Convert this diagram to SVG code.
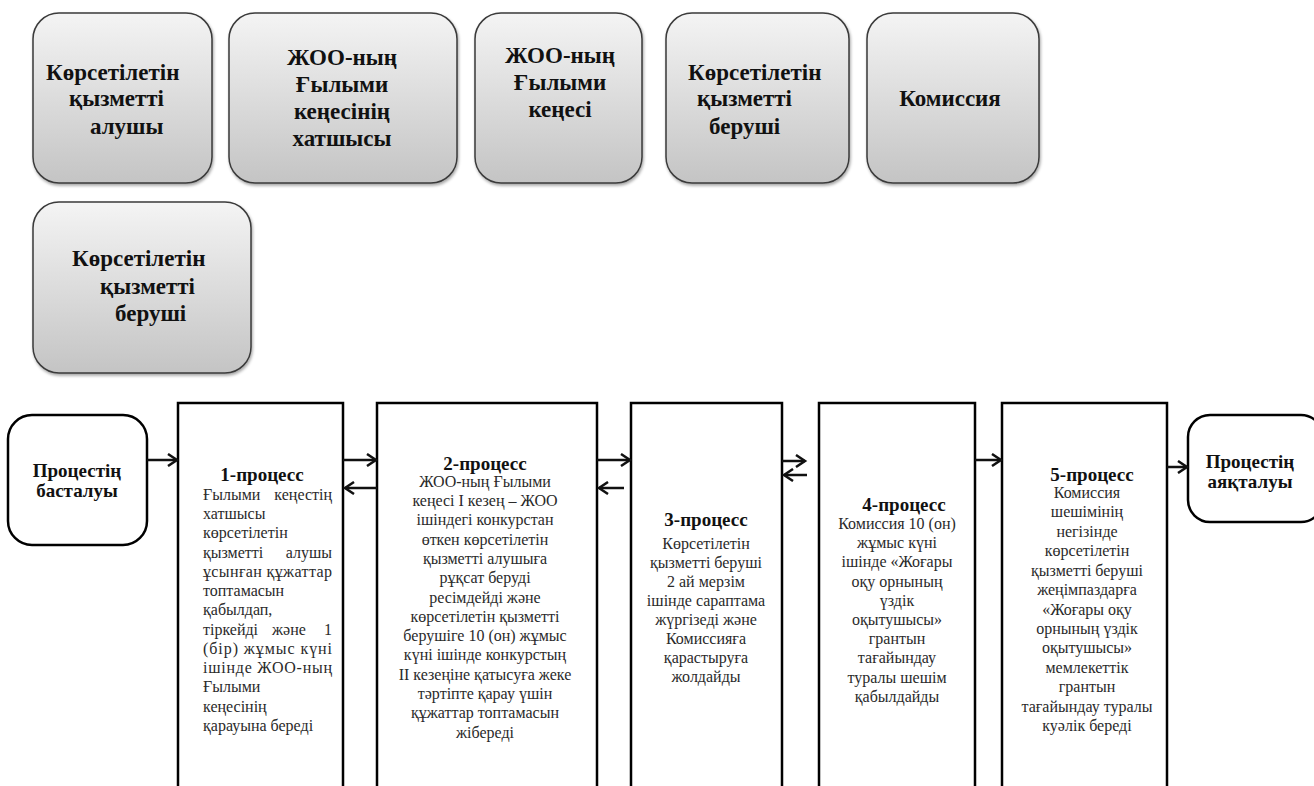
<svg xmlns="http://www.w3.org/2000/svg" width="1314" height="786" viewBox="0 0 1314 786">
<style>
  .actor { stroke: #3a3a3a; stroke-width: 1.5; fill: url(#g); filter: url(#sh); }
  .at { font-family: "Liberation Serif", "Times New Roman", serif; font-weight: bold; font-size: 23px; fill: #111; }
  .mid { text-anchor: middle; }
  .end { text-anchor: end; }
  .proc { fill: none; stroke: #000; stroke-width: 2.5; }
  .term { fill: #fff; stroke: #000; stroke-width: 2.5; }
  .hd { font-family: "Liberation Serif", "Times New Roman", serif; font-weight: bold; font-size: 19px; fill: #111; }
  .bd { font-family: "Liberation Serif", "Times New Roman", serif; font-size: 16px; fill: #2a2a2a; }
  .arr { stroke: #111; stroke-width: 2.5; fill: none; marker-end: url(#ah); }
</style>
<defs>
  <linearGradient id="g" x1="0" y1="0" x2="0" y2="1">
    <stop offset="0" stop-color="#f4f4f4"/>
    <stop offset="1" stop-color="#c4c4c4"/>
  </linearGradient>
  <filter id="sh" x="-10%" y="-10%" width="125%" height="125%">
    <feDropShadow dx="1" dy="2" stdDeviation="1.5" flood-color="#000" flood-opacity="0.35"/>
  </filter>
  <marker id="ah" markerUnits="userSpaceOnUse" markerWidth="14" markerHeight="14" refX="11" refY="7" orient="auto">
    <path d="M2,1 L11,7 L2,13" fill="none" stroke="#111" stroke-width="2.5"/>
  </marker>
</defs>
<rect width="1314" height="786" fill="#fff"/>

<g id="actor1">
  <rect class="actor" x="33" y="13" width="179" height="170" rx="26"/>
  <text class="at" x="46" y="80">Көрсетілетін</text>
  <text class="at" x="69" y="106">қызметті</text>
  <text class="at" x="90" y="134">алушы</text>
</g>
<g id="actor2">
  <rect class="actor" x="229" y="13" width="228" height="170" rx="26"/>
  <text class="at mid" x="342" y="65">ЖОО-ның</text>
  <text class="at mid" x="342" y="92">Ғылыми</text>
  <text class="at mid" x="342" y="119">кеңесінің</text>
  <text class="at mid" x="342" y="146">хатшысы</text>
</g>
<g id="actor3">
  <rect class="actor" x="475" y="13" width="167" height="170" rx="26"/>
  <text class="at mid" x="560" y="63">ЖОО-ның</text>
  <text class="at mid" x="560" y="90">Ғылыми</text>
  <text class="at mid" x="560" y="117">кеңесі</text>
</g>
<g id="actor4">
  <rect class="actor" x="666" y="13" width="183" height="170" rx="26"/>
  <text class="at" x="688" y="80">Көрсетілетін</text>
  <text class="at" x="697" y="106">қызметті</text>
  <text class="at" x="709" y="134">беруші</text>
</g>
<g id="actor5">
  <rect class="actor" x="867" y="13" width="172" height="170" rx="26"/>
  <text class="at mid" x="950" y="106">Комиссия</text>
</g>
<g id="actor6">
  <rect class="actor" x="33" y="202" width="218" height="171" rx="26"/>
  <text class="at" x="72" y="266">Көрсетілетін</text>
  <text class="at" x="100" y="294">қызметті</text>
  <text class="at" x="115" y="321">беруші</text>
</g>

<g id="start">
  <rect class="term" x="8" y="415" width="139" height="130" rx="24"/>
  <text class="hd mid" x="77" y="477">Процестің</text>
  <text class="hd mid" x="77" y="497">басталуы</text>
</g>

<g id="p1">
  <path class="proc" d="M178,790 V403 H343 V790"/>
  <text class="hd mid" x="262" y="481">1-процесс</text>
  <g class="bd">
    <text x="203" y="500">Ғылыми</text><text class="end" x="332" y="500">кеңестің</text>
    <text x="203" y="519">хатшысы</text>
    <text x="203" y="538">көрсетілетін</text>
    <text x="203" y="558">қызметті</text><text class="end" x="332" y="558">алушы</text>
    <text x="203" y="577" textLength="129" lengthAdjust="spacing">ұсынған құжаттар</text>
    <text x="203" y="596">топтамасын</text>
    <text x="203" y="615">қабылдап,</text>
    <text x="203" y="635">тіркейді</text><text x="272" y="635">және</text><text class="end" x="332" y="635">1</text>
    <text x="203" y="654" textLength="129" lengthAdjust="spacing">(бір) жұмыс күні</text>
    <text x="203" y="673" textLength="129" lengthAdjust="spacing">ішінде ЖОО-ның</text>
    <text x="203" y="692">Ғылыми</text>
    <text x="203" y="712">кеңесінің</text>
    <text x="203" y="731">қарауына береді</text>
  </g>
</g>

<g id="p2">
  <path class="proc" d="M377,790 V403 H597 V790"/>
  <text class="hd mid" x="485" y="470">2-процесс</text>
  <g class="bd mid">
    <text x="485" y="487">ЖОО-ның Ғылыми</text>
    <text x="485" y="506">кеңесі I кезең – ЖОО</text>
    <text x="485" y="525">ішіндегі конкурстан</text>
    <text x="485" y="545">өткен көрсетілетін</text>
    <text x="485" y="564">қызметті алушыға</text>
    <text x="485" y="583">рұқсат беруді</text>
    <text x="485" y="603">ресімдейді және</text>
    <text x="485" y="622">көрсетілетін қызметті</text>
    <text x="485" y="641">берушіге 10 (он) жұмыс</text>
    <text x="485" y="660">күні ішінде конкурстың</text>
    <text x="485" y="680">II кезеңіне қатысуға жеке</text>
    <text x="485" y="699">тәртіпте қарау үшін</text>
    <text x="485" y="718">құжаттар топтамасын</text>
    <text x="485" y="738">жібереді</text>
  </g>
</g>

<g id="p3">
  <path class="proc" d="M631,790 V403 H782 V790"/>
  <text class="hd mid" x="706" y="526">3-процесс</text>
  <g class="bd mid">
    <text x="706" y="549">Көрсетілетін</text>
    <text x="706" y="568">қызметті беруші</text>
    <text x="706" y="587">2 ай мерзім</text>
    <text x="706" y="606">ішінде сараптама</text>
    <text x="706" y="625">жүргізеді және</text>
    <text x="706" y="644">Комиссияға</text>
    <text x="706" y="663">қарастыруға</text>
    <text x="706" y="682">жолдайды</text>
  </g>
</g>

<g id="p4">
  <path class="proc" d="M819,790 V403 H975 V790"/>
  <text class="hd mid" x="904" y="511">4-процесс</text>
  <g class="bd mid">
    <text x="897" y="529">Комиссия 10 (он)</text>
    <text x="897" y="548">жұмыс күні</text>
    <text x="897" y="567">ішінде «Жоғары</text>
    <text x="897" y="587">оқу орнының</text>
    <text x="897" y="606">үздік</text>
    <text x="897" y="625">оқытушысы»</text>
    <text x="897" y="644">грантын</text>
    <text x="897" y="663">тағайындау</text>
    <text x="897" y="683">туралы  шешім</text>
    <text x="897" y="702">қабылдайды</text>
  </g>
</g>

<g id="p5">
  <path class="proc" d="M1002,790 V403 H1167 V790"/>
  <text class="hd mid" x="1092" y="481">5-процесс</text>
  <g class="bd mid">
    <text x="1087" y="498">Комиссия</text>
    <text x="1087" y="517">шешімінің</text>
    <text x="1087" y="537">негізінде</text>
    <text x="1087" y="556">көрсетілетін</text>
    <text x="1087" y="576">қызметті беруші</text>
    <text x="1087" y="595">жеңімпаздарға</text>
    <text x="1087" y="615">«Жоғары оқу</text>
    <text x="1087" y="634">орнының үздік</text>
    <text x="1087" y="653">оқытушысы»</text>
    <text x="1087" y="673">мемлекеттік</text>
    <text x="1087" y="692">грантын</text>
    <text x="1087" y="712">тағайындау туралы</text>
    <text x="1087" y="731">куәлік береді</text>
  </g>
</g>

<g id="end">
  <rect class="term" x="1188" y="415" width="135" height="107" rx="22"/>
  <text class="hd mid" x="1250" y="468">Процестің</text>
  <text class="hd mid" x="1250" y="488">аяқталуы</text>
</g>

<g id="connectors">
  <line class="arr" x1="147" y1="460" x2="177" y2="460"/>
  <line class="arr" x1="343" y1="460" x2="376" y2="460"/>
  <line class="arr" x1="377" y1="488" x2="345" y2="488"/>
  <line class="arr" x1="597" y1="460" x2="630" y2="460"/>
  <line class="arr" x1="624" y1="488" x2="599" y2="488"/>
  <line class="arr" x1="782" y1="461" x2="805" y2="461"/>
  <line class="arr" x1="807" y1="475" x2="784" y2="475"/>
  <line class="arr" x1="975" y1="460" x2="1001" y2="460"/>
  <line class="arr" x1="1167" y1="467" x2="1187" y2="467"/>
</g>
</svg>
